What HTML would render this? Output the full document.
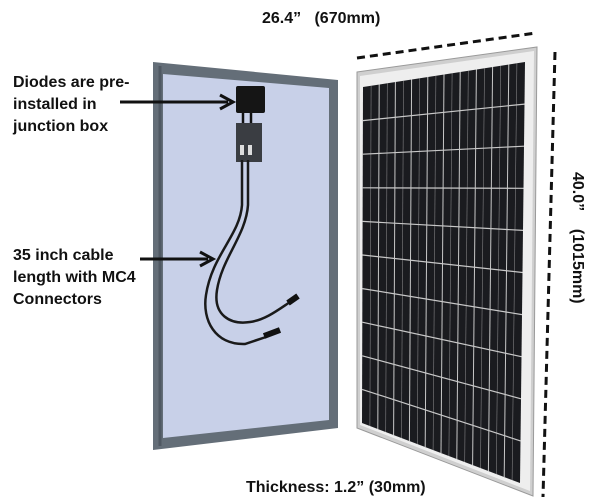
<!DOCTYPE html>
<html><head><meta charset="utf-8"><style>
html,body{margin:0;padding:0;background:#fff;width:600px;height:501px;overflow:hidden}
svg{display:block}
text{font-family:"Liberation Sans",sans-serif;font-weight:bold;fill:#111}
</style></head><body>
<svg id="s" width="600" height="501" viewBox="0 0 600 501" xmlns="http://www.w3.org/2000/svg">
<polygon points="153,62 338,80 338,428 153,450" fill="#646e78"/>
<polygon points="163,74 329,88 329,420 163,438" fill="#c8d0e8"/>
<line x1="160" y1="66" x2="160" y2="446" stroke="#4f5862" stroke-width="3"/>
<rect x="236" y="86" width="29" height="27" rx="2" fill="#151515"/>
<rect x="236" y="123" width="26" height="39" fill="#3a3d42"/>
<rect x="240" y="145" width="4" height="10" fill="#ddd"/>
<rect x="248" y="145" width="4" height="10" fill="#ddd"/>
<path d="M243,113 L243,123 M251,113 L251,123" stroke="#111" stroke-width="2.5"/>
<path d="M242,160 L242,205 C240,235 212,255 206,295 C202,320 215,345 245,344 L266,337" fill="none" stroke="#1a1a1a" stroke-width="2.5"/>
<path d="M248,160 L248,205 C246,235 222,258 217,290 C213,315 230,325 250,322 C265,320 278,310 290,302" fill="none" stroke="#1a1a1a" stroke-width="2.5"/>
<path d="M264,336 L280,330" stroke="#111" stroke-width="6"/>
<path d="M288,303 L298,296" stroke="#111" stroke-width="6"/>
<polygon points="357,72 537,47 533,496 357,428" fill="#cfcfcf" stroke="#9a9a9a" stroke-width="1"/>
<polygon points="360,76 534,51 530,491 360,425" fill="#eeeeee"/>
<polygon points="363,87 525,62 520,483 362,423" fill="#1a1b1f"/>
<g id="grid" stroke="#c8c8c8" stroke-width="0.8"></g>
<line x1="357" y1="58" x2="536" y2="33" stroke="#111" stroke-width="3" stroke-dasharray="8,5"/>
<line x1="555" y1="52" x2="543" y2="497" stroke="#111" stroke-width="3" stroke-dasharray="8,5"/>
<text x="262" y="23" font-size="16" xml:space="preserve">26.4”   (670mm)</text>
<text transform="translate(573,172) rotate(90)" font-size="16" xml:space="preserve">40.0”    (1015mm)</text>
<text x="246" y="492" font-size="16">Thickness: 1.2” (30mm)</text>
<text x="13" y="87" font-size="16">Diodes are pre-</text>
<text x="13" y="109" font-size="16">installed in</text>
<text x="13" y="131" font-size="16">junction box</text>
<text x="13" y="260" font-size="16">35 inch cable</text>
<text x="13" y="282" font-size="16">length with MC4</text>
<text x="13" y="304" font-size="16">Connectors</text>
<line x1="120" y1="102" x2="228" y2="102" stroke="#111" stroke-width="3"/>
<path d="M220,95 L233,102 L220,109" fill="none" stroke="#111" stroke-width="3"/>
<line x1="140" y1="259" x2="208" y2="259" stroke="#111" stroke-width="3"/>
<path d="M200,252 L213,259 L200,266" fill="none" stroke="#111" stroke-width="3"/>
</svg>
<script>
(function(){
var g=document.getElementById('grid');
var TL=[363,87],TR=[525,62],BR=[520,483],BL=[362,423];
function P(u,v){var x=(1-u)*(1-v)*TL[0]+u*(1-v)*TR[0]+u*v*BR[0]+(1-u)*v*BL[0];
var y=(1-u)*(1-v)*TL[1]+u*(1-v)*TR[1]+u*v*BR[1]+(1-u)*v*BL[1];return [x,y];}
function L(a,b,w,o){var l=document.createElementNS('http://www.w3.org/2000/svg','line');
l.setAttribute('x1',a[0]);l.setAttribute('y1',a[1]);l.setAttribute('x2',b[0]);l.setAttribute('y2',b[1]);
l.setAttribute('stroke-width',w);if(o)l.setAttribute('stroke-opacity',o);g.appendChild(l);}
for(var i=1;i<20;i++){var u=i/20;L(P(u,0),P(u,1),i%2?0.6:1,i%2?0.6:1);}
for(var j=1;j<10;j++){var v=j/10;L(P(0,v),P(1,v),1.2);}
})();
</script>
</body></html>
